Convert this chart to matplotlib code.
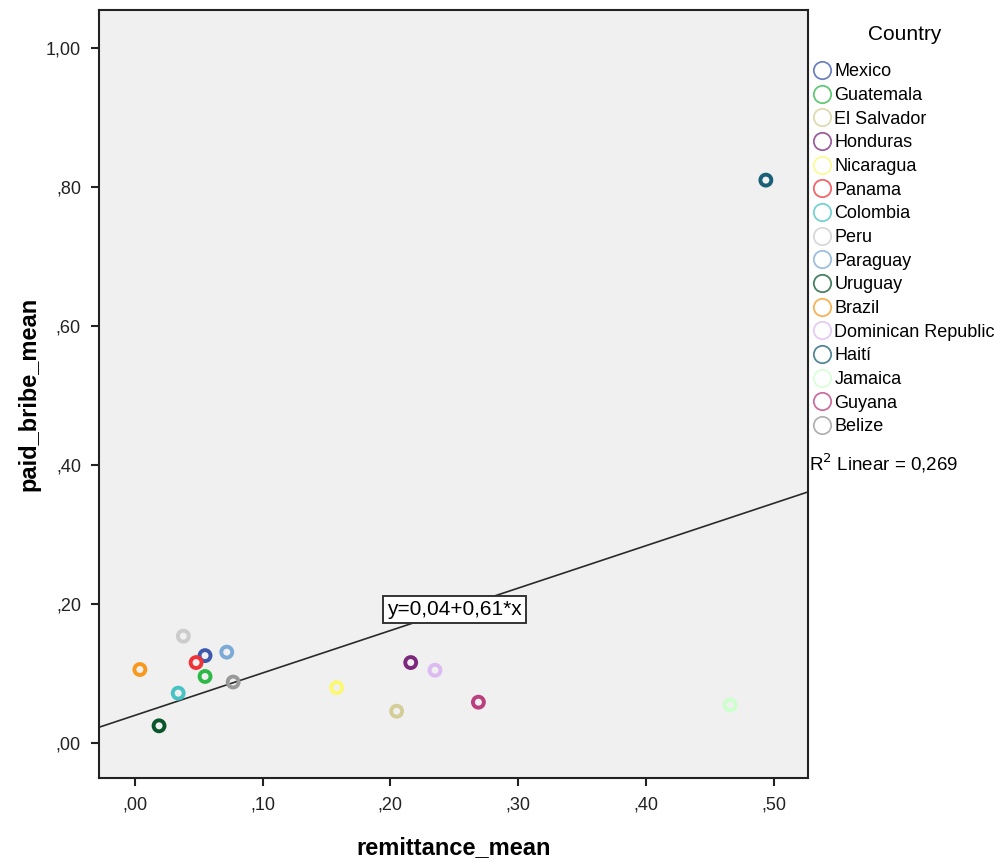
import numpy as np
import matplotlib.pyplot as plt
from matplotlib.lines import Line2D

plt.rcParams['font.family'] = ['Liberation Sans', 'DejaVu Sans']

countries = ["Mexico", "Guatemala", "El Salvador", "Honduras", "Nicaragua", "Panama",
             "Colombia", "Peru", "Paraguay", "Uruguay", "Brazil", "Dominican Republic",
             "Haití", "Jamaica", "Guyana", "Belize"]
remittance_mean = [0.055, 0.055, 0.205, 0.216, 0.158, 0.048, 0.034, 0.038,
                   0.072, 0.019, 0.004, 0.235, 0.494, 0.466, 0.269, 0.077]
paid_bribe_mean = [0.126, 0.096, 0.046, 0.116, 0.080, 0.116, 0.072, 0.154,
                   0.131, 0.025, 0.106, 0.105, 0.810, 0.055, 0.059, 0.088]
colors = ["#3E58AC", "#2EB848", "#D3CE97", "#7C287D", "#FBF873", "#EF3338",
          "#48C2C5", "#CCCCCC", "#7AAAD5", "#0A562C", "#F8981D", "#DDBAF1",
          "#1A5F76", "#CCFFCC", "#BB3F7F", "#999999"]

intercept = 0.04
slope = 0.61
r2 = "0,269"

x_ticks = [0.0, 0.1, 0.2, 0.3, 0.4, 0.5]
y_ticks = [0.0, 0.2, 0.4, 0.6, 0.8, 1.0]
x_ticklabels = [",00", ",10", ",20", ",30", ",40", ",50"]
y_ticklabels = [",00", ",20", ",40", ",60", ",80", "1,00"]

fig = plt.figure(figsize=(10.01, 8.67), dpi=100)
ax = fig.add_axes([0.0989, 0.1027, 0.7083, 0.886])
ax.set_facecolor("#F0F0F0")

xmin, xmax = -0.028, 0.527
ymin, ymax = -0.05, 1.055

for xv, yv, c in zip(remittance_mean, paid_bribe_mean, colors):
    ax.scatter(xv, yv, s=62, facecolors="none", edgecolors=c, linewidths=2.8, zorder=3)

# fit line
lx = np.array([xmin, xmax])
ax.plot(lx, intercept + slope * lx, color="#2a2a2a", lw=1.2, zorder=2)

ax.text(0.25, 0.192, "y=0,04+0,61*x", ha="center", va="center", fontsize=15,
        bbox=dict(boxstyle="square,pad=0.2", facecolor="white", edgecolor="#333333", lw=1.4),
        zorder=4)

ax.set_xlim(xmin, xmax)
ax.set_ylim(ymin, ymax)
ax.set_xticks(x_ticks)
ax.set_xticklabels(x_ticklabels)
ax.set_yticks(y_ticks)
ax.set_yticklabels(y_ticklabels)
ax.tick_params(direction="out", length=6, width=1.5, labelsize=13, colors="#222222", pad=7)
for sp in ax.spines.values():
    sp.set_linewidth(1.5)
    sp.set_color("#222222")

ax.set_xlabel("remittance_mean", fontsize=17, fontweight="bold")
ax.set_ylabel("paid_bribe_mean", fontsize=17, fontweight="bold")
ax.xaxis.set_label_coords(0.5, -0.075)
ax.yaxis.set_label_coords(-0.082, 0.5)

# legend
handles = [Line2D([], [], marker="o", linestyle="none", markersize=12.5,
                  markerfacecolor="none", markeredgecolor=c, markeredgewidth=1.3, alpha=0.75)
           for c in colors]
leg = fig.legend(handles, countries, loc="upper left",
                 bbox_to_anchor=(0.812, 0.927), frameon=False, fontsize=13,
                 handlelength=1.0, handletextpad=0.2,
                 labelspacing=0.37, borderaxespad=0, borderpad=0.0)
fig.text(0.904, 0.96, "Country", fontsize=15, ha="center", va="center")

fig.text(0.808, 0.466, "R$^2$ Linear = " + r2, fontsize=13.5, ha="left", va="center")

fig.savefig("out.png", dpi=100)
